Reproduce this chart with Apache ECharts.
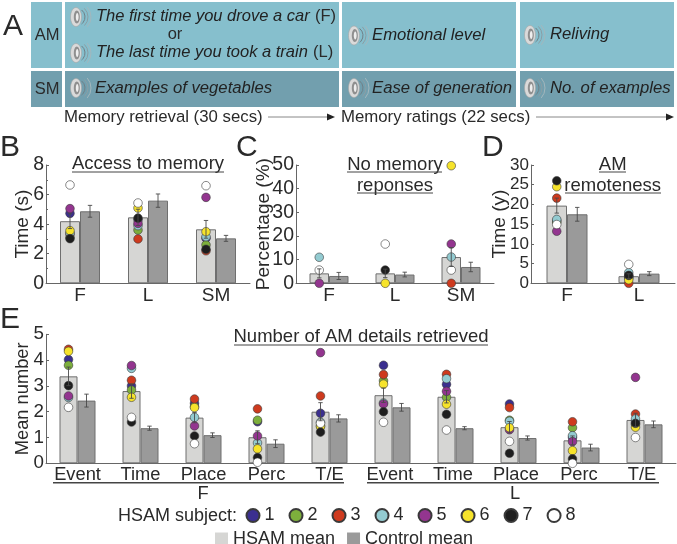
<!DOCTYPE html>
<html><head><meta charset="utf-8">
<style>html,body{margin:0;padding:0;background:#fff}#c{width:677px;height:544px}</style>
<script src="https://cdn.jsdelivr.net/npm/echarts@6/dist/echarts.min.js"></script>
</head><body><div id="c"></div>
<script>
// ---------- data ----------
const subjectNames = ['1','2','3','4','5','6','7','8'];
const subjectColors = ['#3B2F8F','#7DAF3C','#CE3A1E','#93CBD1','#93358F','#F6E32B','#1E1E1E','#FFFFFF'];

// Panel B: Access to memory
const bCategories = ['F','L','SM'];
const bHsam = [4.2,4.46,3.65];
const bControl = [4.87,5.59,3.04];
const bHsamErr = [0.5,0.55,0.6];
const bControlErr = [0.4,0.45,0.2];
const bSubjects = [
  [4.73,4.3,3.05],[3.1,3.6,2.6],[3.33,3.0,2.2],[3.4,3.9,3.15],
  [5.05,4.05,5.81],[3.56,5.09,3.49],[3.02,4.41,2.3],[6.65,5.43,6.6]
];

// Panel C: No memory responses
const cCategories = ['F','L','SM'];
const cHsam = [4.2,4.2,11.1];
const cControl = [3.1,3.7,6.9];
const cHsamErr = [1.9,1.8,4];
const cControlErr = [1.5,1.0,2];
const cSubjects = [
  [null,null,null],[null,null,null],[null,null,0],[11,null,11.1],
  [0,null,16.6],[null,0,49.7],[null,5.6,null],[5.6,16.6,5.6]
];

// Panel D: AM remoteness
const dCategories = ['F','L'];
const dHsam = [19.7,1.8];
const dControl = [17.5,2.45];
const dHsamErr = [1.9,0.6];
const dControlErr = [1.75,0.5];
const dSubjects = [
  [15.8,1.6],[15.5,1.4],[21.6,0],[16.2,2.7],
  [13.2,1.9],[24.5,0.9],[26,2.0],[14.9,4.8]
];

// Panel E: Number of AM details retrieved
const eCategories = ['Event','Time','Place','Perc','T/E','Event ','Time ','Place ','Perc ','T/E '];
const eHsam = [3.37,2.8,1.77,1.01,2.0,2.64,2.58,1.4,0.89,1.68];
const eControl = [2.43,1.36,1.09,0.76,1.74,2.17,1.36,0.98,0.61,1.51];
const eHsamErr = [0.36,0.28,0.2,0.25,0.35,0.28,0.24,0.22,0.17,0.26];
const eControlErr = [0.25,0.08,0.09,0.15,0.14,0.15,0.06,0.08,0.13,0.13];
const eSubjects = [
  [4.02,3.0,2.33,1.61,1.94,3.8,3.06,2.3,1.0,1.6],
  [3.8,2.84,2.2,1.67,1.45,3.2,2.56,1.67,1.38,1.5],
  [4.42,3.22,2.49,2.11,2.61,3.44,3.45,2.16,1.61,1.91],
  [2.55,3.68,1.78,0.79,1.59,2.34,3.28,1.63,1.07,1.72],
  [2.61,3.79,1.45,1.06,4.29,2.3,2.79,1.3,0.84,3.33],
  [4.34,2.56,2.16,0.56,1.42,3.07,2.29,1.38,0.49,1.4],
  [3.01,1.6,1.06,0.22,1.21,2.0,1.9,0.39,0.17,1.55],
  [2.17,1.78,0.76,0.04,1.55,1.59,1.29,0.85,0.0,1.0]
];

const panels = [
  {cats:bCategories,h:bHsam,c:bControl,he:bHsamErr,ce:bControlErr,subs:bSubjects,left:46,width:204,top:165,height:118.3,bw:20,max:8,interval:2,minor:true,
   yName:'Time (s)',nameGap:14,fs:19,lfs:19.5},
  {cats:cCategories,h:cHsam,c:cControl,he:cHsamErr,ce:cControlErr,subs:cSubjects,left:296,width:198,top:165,height:118.3,bw:19.5,max:50,interval:10,minor:false,
   yName:'Percentage (%)',nameGap:23,fs:19,lfs:19.5},
  {cats:dCategories,h:dHsam,c:dControl,he:dHsamErr,ce:dControlErr,subs:dSubjects,left:531,width:144,top:165,height:118.3,bw:20.5,max:30,interval:5,minor:false,
   yName:'Time (y)',nameGap:22,fs:19,lfs:17},
  {cats:eCategories,h:eHsam,c:eControl,he:eHsamErr,ce:eControlErr,subs:eSubjects,left:46,width:630,top:334.3,height:129,bw:18,max:5,interval:1,minor:false,
   yName:'Mean number',nameGap:14,fs:18.3,lfs:18.8}
];

// ---------- chart ----------
const FONT = '"Liberation Sans"';
const INK = '#2a2a2a', AXIS = '#666';
const grid=[], xAxis=[], yAxis=[], series=[];

function errSeries(i, vals, errs, sign, bw){
  return {
    type:'custom', xAxisIndex:i, yAxisIndex:i, silent:true, clip:false, z:6,
    data: vals.map((v,k)=>[k, v-errs[k], v+errs[k]]),
    encode:{x:0,y:[1,2]},
    renderItem(params, api){
      const low = api.coord([api.value(0), api.value(1)]);
      const high = api.coord([api.value(0), api.value(2)]);
      const x = low[0] + sign*bw/2, cap = 2.2;
      const st = {stroke:'#4a4a4a', lineWidth:0.9, fill:'none'};
      return {type:'group', children:[
        {type:'line', shape:{x1:x,y1:low[1],x2:x,y2:high[1]}, style:st},
        {type:'line', shape:{x1:x-cap,y1:low[1],x2:x+cap,y2:low[1]}, style:st},
        {type:'line', shape:{x1:x-cap,y1:high[1],x2:x+cap,y2:high[1]}, style:st}
      ]};
    }
  };
}

panels.forEach((p,i)=>{
  grid.push({left:p.left, top:p.top, width:p.width, height:p.height, containLabel:false});
  xAxis.push({type:'category', gridIndex:i, data:p.cats, boundaryGap:true,
    axisLine:{lineStyle:{color:AXIS,width:1}},
    axisTick:{inside:true,length:3,lineStyle:{color:AXIS}},
    axisLabel:{color:INK,fontSize:p.fs,fontFamily:FONT,margin:3,interval:0}});
  yAxis.push({type:'value', gridIndex:i, min:0, max:p.max, interval:p.interval,
    name:p.yName, nameLocation:'middle', nameGap:p.nameGap, nameMoveOverlap:false,
    nameTextStyle:{color:INK,fontSize:p.fs,fontFamily:FONT},
    splitLine:{show:false},
    axisLine:{show:true,lineStyle:{color:AXIS,width:1}},
    axisTick:{show:true,inside:true,length:3,lineStyle:{color:AXIS}},
    minorTick:{show:p.minor,splitNumber:2,length:2,lineStyle:{color:AXIS}},
    axisLabel:{color:INK,fontSize:p.lfs,lineHeight:14,fontFamily:FONT,margin:2,hideOverlap:false,showMinLabel:true,showMaxLabel:true}});
  series.push({name:'HSAM mean',type:'bar',xAxisIndex:i,yAxisIndex:i,data:p.h,barWidth:p.bw,barGap:'0%',
    itemStyle:{color:'#D6D6D4',borderColor:'#6f6f6f',borderWidth:1},z:2});
  series.push({name:'Control mean',type:'bar',xAxisIndex:i,yAxisIndex:i,data:p.c,barWidth:p.bw,barGap:'0%',
    itemStyle:{color:'#9A9A9A',borderColor:'#6f6f6f',borderWidth:1},z:2});
  p.subs.forEach((vals,s)=>{
    series.push({name:subjectNames[s],type:'scatter',xAxisIndex:i,yAxisIndex:i,data:vals,
      symbol:'circle',symbolSize:8.6,symbolOffset:[-p.bw/2,0],clip:false,z:3+s*0.01,
      itemStyle:{color:subjectColors[s],borderColor:'#3a3a3a',borderWidth:0.6,opacity:1}});
  });
  series.push(errSeries(i,p.h,p.he,-1,p.bw));
  series.push(errSeries(i,p.c,p.ce,1,p.bw));
});

// ---------- annotation graphics ----------
const g=[];
const txt=(text,x,y,size,opt={})=>g.push({type:'text',silent:true,z:10,style:Object.assign({
  text,x,y,fontSize:size,fontFamily:FONT,fill:INK,textAlign:'left',textVerticalAlign:'middle'},opt)});
const hline=(x1,x2,y,w=1,c='#444')=>g.push({type:'line',silent:true,z:10,shape:{x1,y1:y,x2,y2:y},style:{stroke:c,lineWidth:w}});
const rect=(x,y,w,h,c)=>g.push({type:'rect',silent:true,z:1,shape:{x,y,width:w,height:h},style:{fill:c}});

const AM='#86BFCD', SM='#729FAE';
rect(31,2,31,66,AM); rect(65,2,274,66,AM); rect(342,2,174,66,AM); rect(520,2,154,66,AM);
rect(31,71,31,36,SM); rect(65,71,274,36,SM); rect(342,71,174,36,SM); rect(520,71,154,36,SM);

function speaker(x,y){
  g.push({type:'arc',silent:true,z:8,shape:{cx:x,cy:y,r:15,startAngle:-0.72,endAngle:0.72},style:{stroke:'#A3B7BD',lineWidth:1,fill:'none'}});
  g.push({type:'arc',silent:true,z:8,shape:{cx:x,cy:y,r:12,startAngle:-0.8,endAngle:0.8},style:{stroke:'#8A9EA5',lineWidth:1,fill:'none'}});
  g.push({type:'arc',silent:true,z:8,shape:{cx:x,cy:y,r:9,startAngle:-0.9,endAngle:0.9},style:{stroke:'#6F8087',lineWidth:1,fill:'none'}});
  g.push({type:'ellipse',silent:true,z:9,shape:{cx:x,cy:y,rx:5.5,ry:9.5},style:{fill:'#DADADA',stroke:'#a5a5a5',lineWidth:0.6}});
  g.push({type:'ellipse',silent:true,z:9,shape:{cx:x+0.8,cy:y,rx:3,ry:6.5},style:{fill:'#8f8f8f'}});
  g.push({type:'ellipse',silent:true,z:9,shape:{cx:x+1.2,cy:y,rx:1.4,ry:4},style:{fill:'#eeeeee'}});
}
[[76,17],[76,53],[76,88],[354,35.5],[530,35],[354,88],[530,88]].forEach(a=>speaker(a[0],a[1]));

const it={fontStyle:'italic',fill:'#222'};
txt('The first time you drove a car',96,16,16.5,it); txt('(F)',315,16,16.5);
txt('or',175,34,16.5,{textAlign:'center'});
txt('The last time you took a train',96,52,16.5,it); txt('(L)',313,52,16.5);
txt('Examples of vegetables',95,88,16.7,it);
txt('Emotional level',372,35,16.7,it); txt('Reliving',550,34,16.7,it);
txt('Ease of generation',372,88,16.7,it); txt('No. of examples',550,88,16.7,it);
txt('AM',47,35,16.5,{textAlign:'center'}); txt('SM',47,89,16.5,{textAlign:'center'});

txt('Memory retrieval (30 secs)',64,117,16.8);
txt('Memory ratings (22 secs)',341,117,16.8);
function arrow(x1,x2,y){
  hline(x1,x2-6,y,1,'#888');
  g.push({type:'polygon',silent:true,z:10,shape:{points:[[x2-8,y-3.5],[x2,y],[x2-8,y+3.5]]},style:{fill:'#222'}});
}
arrow(268,335,117); arrow(536,674,117);

// panel letters
txt('A',3,27,30); txt('B',0,148,30); txt('C',236,148,30); txt('D',482,148,30); txt('E',0,320,30);

// titles
const ctr={textAlign:'center'};
txt('Access to memory',148,164,18.5,ctr); hline(72,224,172);
txt('No memory',395,165,18.5,ctr); hline(347,442,172);
txt('reponses',395,186,18.5,ctr); hline(357,433,193);
txt('AM',612.7,165,18.5,ctr); hline(599,626,172);
txt('remoteness',612.7,186,18.5,ctr); hline(565,661,193);
txt('Number of AM details retrieved',361,337,18.5,ctr); hline(234,488,345);

// E grouping
hline(53,344,482.7,1.5); hline(367,659,482.7,1.5);
txt('F',203,494,18.3,ctr); txt('L',515,494,18.3,ctr);
txt('HSAM subject:',118,516,18);

const chart=echarts.init(document.getElementById('c'),null,{renderer:'canvas'});
chart.setOption({
  animation:false, backgroundColor:'#fff',
  textStyle:{fontFamily:FONT},
  grid, xAxis, yAxis, series, graphic:{elements:g},
  legend:[
    {data:subjectNames,left:245.5,top:506.5,orient:'horizontal',itemWidth:13,itemHeight:13,itemGap:14,selectedMode:false,
     padding:0,textStyle:{fontSize:18,color:INK,fontFamily:FONT}},
    {data:['HSAM mean','Control mean'],left:215,top:530,orient:'horizontal',icon:'rect',itemWidth:13,itemHeight:13,itemGap:12,selectedMode:false,
     padding:0,itemStyle:{borderWidth:0},textStyle:{fontSize:18,color:INK,fontFamily:FONT}}
  ]
});
</script></body></html>
